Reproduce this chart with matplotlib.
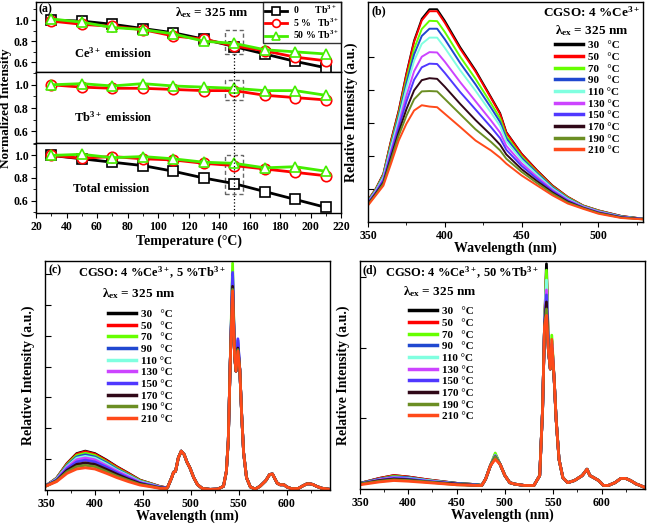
import matplotlib
matplotlib.use('Agg')
import matplotlib.pyplot as plt
from matplotlib.patches import Rectangle
from matplotlib.ticker import MultipleLocator, NullFormatter

plt.rcParams['font.family'] = ['Liberation Serif', 'DejaVu Serif']
plt.rcParams['font.weight'] = 'bold'
plt.rcParams['mathtext.fontset'] = 'custom'
plt.rcParams['mathtext.rm'] = 'Liberation Serif:bold'
plt.rcParams['mathtext.it'] = 'Liberation Serif:bold'
plt.rcParams['mathtext.bf'] = 'Liberation Serif:bold'
plt.rcParams['mathtext.default'] = 'rm'
plt.rcParams['axes.linewidth'] = 1.0

# ---------------- data ----------------
temps = [30, 50, 70, 90, 110, 130, 150, 170, 190, 210]
temp_labels = ['30   °C', '50   °C', '70   °C', '90   °C', '110 °C',
               '130 °C', '150 °C', '170 °C', '190 °C', '210 °C']
temp_colors = ['#000000', '#ff0000', '#66ff00', '#2048d0', '#80ffe0',
               '#cc44ff', '#5038ff', '#300818', '#6b8e23', '#ff4a1a']

# panel (a): normalized intensities
ce_0tb = [1.00, 0.99, 0.96, 0.92, 0.88, 0.82, 0.75, 0.68, 0.61, 0.55]
ce_5tb = [0.99, 0.96, 0.94, 0.91, 0.85, 0.82, 0.756, 0.71, 0.65, 0.616]
ce_50tb = [1.01, 0.98, 0.93, 0.91, 0.87, 0.80, 0.78, 0.72, 0.70, 0.68]
tb_5tb = [1.00, 0.98, 0.97, 0.97, 0.96, 0.95, 0.95, 0.91, 0.89, 0.87]
tb_50tb = [1.00, 1.01, 0.99, 1.01, 0.99, 0.98, 0.97, 0.95, 0.95, 0.91]
tot_0tb = [1.00, 0.97, 0.94, 0.91, 0.86, 0.80, 0.75, 0.68, 0.61, 0.54]
tot_5tb = [1.00, 0.975, 0.99, 0.97, 0.96, 0.93, 0.91, 0.88, 0.85, 0.82]
tot_50tb = [1.00, 1.01, 0.98, 0.99, 0.97, 0.94, 0.93, 0.89, 0.90, 0.86]
series_labels = ['0       Tb$^{3+}$', '5 %   Tb$^{3+}$', '50 % Tb$^{3+}$']

# panel (b): Ce3+ band, one list per temperature
wl_b = [350, 355, 360, 365, 370, 375, 380, 385, 390, 395, 400, 410, 420, 430,
        436, 440, 450, 460, 470, 480, 490, 500, 515, 529]
spec_b = [
    [0.66, 1.00, 1.46, 2.47, 3.38, 4.50, 5.50, 6.16, 6.45, 6.45, 6.10, 5.30, 4.60, 3.79, 3.30, 2.73, 2.07, 1.57, 1.11, 0.76, 0.50, 0.35, 0.18, 0.10],
    [0.66, 1.00, 1.45, 2.46, 3.36, 4.47, 5.46, 6.11, 6.39, 6.39, 6.04, 5.25, 4.56, 3.76, 3.27, 2.71, 2.06, 1.56, 1.10, 0.76, 0.50, 0.35, 0.18, 0.10],
    [0.64, 0.98, 1.42, 2.39, 3.27, 4.32, 5.25, 5.85, 6.10, 6.09, 5.76, 5.01, 4.34, 3.60, 3.14, 2.61, 1.99, 1.51, 1.07, 0.74, 0.49, 0.34, 0.17, 0.10],
    [0.63, 0.96, 1.39, 2.33, 3.20, 4.20, 5.08, 5.64, 5.86, 5.86, 5.54, 4.82, 4.17, 3.47, 3.03, 2.54, 1.94, 1.48, 1.05, 0.72, 0.48, 0.33, 0.17, 0.10],
    [0.61, 0.94, 1.36, 2.27, 3.12, 4.06, 4.89, 5.40, 5.59, 5.59, 5.28, 4.60, 3.98, 3.32, 2.91, 2.45, 1.88, 1.44, 1.02, 0.70, 0.47, 0.32, 0.16, 0.09],
    [0.59, 0.91, 1.30, 2.16, 2.98, 3.83, 4.57, 5.01, 5.15, 5.14, 4.86, 4.24, 3.66, 3.08, 2.71, 2.31, 1.78, 1.37, 0.98, 0.67, 0.46, 0.31, 0.15, 0.09],
    [0.57, 0.89, 1.26, 2.08, 2.87, 3.65, 4.31, 4.69, 4.80, 4.79, 4.52, 3.94, 3.41, 2.88, 2.54, 2.19, 1.70, 1.31, 0.94, 0.65, 0.44, 0.29, 0.15, 0.09],
    [0.55, 0.86, 1.20, 1.97, 2.73, 3.42, 3.99, 4.30, 4.36, 4.34, 4.10, 3.58, 3.09, 2.64, 2.34, 2.05, 1.60, 1.24, 0.90, 0.62, 0.43, 0.28, 0.14, 0.09],
    [0.53, 0.83, 1.16, 1.88, 2.62, 3.22, 3.72, 3.96, 3.97, 3.96, 3.73, 3.27, 2.81, 2.43, 2.17, 1.92, 1.52, 1.18, 0.86, 0.59, 0.42, 0.27, 0.13, 0.08],
    [0.50, 0.80, 1.10, 1.77, 2.47, 2.98, 3.38, 3.54, 3.50, 3.48, 3.28, 2.88, 2.47, 2.17, 1.95, 1.77, 1.41, 1.11, 0.81, 0.56, 0.40, 0.25, 0.12, 0.08],
]

# panel (c): 4% Ce, 5% Tb
wl_c_ce = [350, 360, 371, 381, 390, 400, 412, 423, 435, 447, 457, 468, 475]
ce_c = [
    [0.16, 0.38, 0.86, 1.18, 1.26, 1.18, 0.97, 0.75, 0.54, 0.32, 0.22, 0.11, 0.07],
    [0.16, 0.38, 0.85, 1.16, 1.24, 1.16, 0.95, 0.74, 0.53, 0.31, 0.22, 0.11, 0.07],
    [0.16, 0.37, 0.82, 1.12, 1.19, 1.12, 0.91, 0.70, 0.50, 0.30, 0.21, 0.10, 0.07],
    [0.16, 0.36, 0.79, 1.07, 1.14, 1.07, 0.88, 0.67, 0.48, 0.28, 0.20, 0.10, 0.07],
    [0.15, 0.35, 0.76, 1.03, 1.09, 1.03, 0.84, 0.64, 0.46, 0.27, 0.19, 0.09, 0.06],
    [0.15, 0.33, 0.73, 0.98, 1.04, 0.98, 0.79, 0.61, 0.43, 0.25, 0.17, 0.09, 0.06],
    [0.15, 0.32, 0.69, 0.91, 0.97, 0.91, 0.74, 0.56, 0.39, 0.23, 0.16, 0.08, 0.06],
    [0.15, 0.30, 0.64, 0.83, 0.88, 0.83, 0.67, 0.51, 0.35, 0.21, 0.14, 0.07, 0.06],
    [0.14, 0.29, 0.59, 0.76, 0.80, 0.76, 0.60, 0.45, 0.31, 0.18, 0.13, 0.06, 0.05],
    [0.14, 0.27, 0.54, 0.68, 0.72, 0.68, 0.54, 0.40, 0.27, 0.16, 0.11, 0.05, 0.05],
]
wl_c_tb1 = [476, 480, 482, 484, 487, 490, 493, 496, 499, 503, 507, 512, 520, 528, 534, 537, 539, 541]
tb_c1 = [0.10, 0.40, 0.58, 0.60, 1.05, 1.26, 1.15, 0.90, 0.72, 0.40, 0.17, 0.05, 0.02, 0.03, 0.12, 0.60, 1.60, 4.10]
wl_c_p1 = 543.5
p1_c = [6.75, 6.70, 7.35, 7.00, 6.90, 6.80, 7.05, 6.60, 6.50, 6.45]
wl_c_tb2 = [545.5, 547.0]
tb_c2 = [4.40, 3.85]
wl_c_p2 = 549.0
p2_c = [4.60, 4.60, 4.70, 4.85, 4.70, 4.75, 4.90, 4.60, 4.55, 4.50]
wl_c_tb3 = [551, 553, 555, 558, 562, 567, 572, 578, 582, 585, 587, 590, 593, 597, 600, 605, 612, 617, 621, 624, 627, 631, 636, 645]
tb_c3 = [3.90, 2.40, 1.20, 0.40, 0.10, 0.03, 0.12, 0.30, 0.50, 0.52, 0.40, 0.22, 0.17, 0.17, 0.10, 0.04, 0.05, 0.14, 0.20, 0.20, 0.18, 0.12, 0.06, 0.02]

# panel (d): 4% Ce, 50% Tb
wl_d_ce = [350, 370, 385, 400, 420, 450, 472]
ce_d = [
    [0.08, 0.15, 0.19, 0.17, 0.13, 0.08, 0.06],
    [0.08, 0.15, 0.19, 0.17, 0.13, 0.08, 0.06],
    [0.08, 0.14, 0.18, 0.16, 0.12, 0.08, 0.06],
    [0.08, 0.14, 0.17, 0.16, 0.12, 0.08, 0.06],
    [0.07, 0.13, 0.16, 0.15, 0.12, 0.07, 0.05],
    [0.07, 0.13, 0.16, 0.14, 0.11, 0.07, 0.05],
    [0.07, 0.12, 0.15, 0.14, 0.11, 0.07, 0.05],
    [0.07, 0.12, 0.14, 0.13, 0.10, 0.07, 0.05],
    [0.07, 0.11, 0.13, 0.12, 0.10, 0.06, 0.05],
    [0.06, 0.10, 0.12, 0.11, 0.09, 0.06, 0.05],
]
wl_d_tb1 = [476, 480, 485]
tb_d1 = [0.05, 0.14, 0.33]
wl_d_p0 = 490.0
p0_d = [0.49, 0.48, 0.51, 0.47, 0.48, 0.47, 0.47, 0.45, 0.46, 0.42]
wl_d_tb2 = [495, 500, 505, 510, 520, 530, 536, 539, 541]
tb_d2 = [0.35, 0.19, 0.09, 0.07, 0.05, 0.05, 0.19, 1.13, 2.30]
wl_d_p1 = 543.0
p1_d = [3.19, 3.05, 3.10, 2.90, 2.96, 2.82, 2.75, 2.65, 2.55, 2.46]
wl_d_tb3 = [545, 547]
tb_d3 = [1.97, 1.70]
wl_d_p2 = 548.5
p2_d = [2.10, 2.10, 2.18, 2.07, 2.10, 2.05, 2.05, 2.00, 2.00, 2.12]
wl_d_tb4 = [551, 553, 556, 560, 565, 572, 580, 585, 588, 592, 597, 602, 607, 614, 620, 625, 630, 636, 640, 645]
tb_d4 = [1.55, 0.99, 0.42, 0.16, 0.09, 0.12, 0.19, 0.28, 0.19, 0.16, 0.12, 0.05, 0.05, 0.09, 0.15, 0.15, 0.12, 0.07, 0.05, 0.02]

# ---------------- figure ----------------
W, H = 647, 528
fig = plt.figure(figsize=(W / 100, H / 100), dpi=100)


def fa(l, t, r, b):
    return fig.add_axes([l / W, 1 - b / H, (r - l) / W, (b - t) / H])


TICK_FS = 8.5
LAB_FS = 10
TXT = dict(fontweight='bold')

# ---- panel (a)
ax_t = fa(36, 2, 341, 72)
ax_m = fa(36, 72, 341, 143)
ax_b3 = fa(36, 143, 341, 213)
sty = [dict(color='black', marker='s', mec='black'),
       dict(color='#ff0000', marker='o', mec='#ff0000'),
       dict(color='#44ee00', marker='^', mec='#44ee00')]
common = dict(lw=2.0, ms=7.5, mfc='white', mew=1.2)

h0, = ax_t.plot(temps, ce_0tb, **sty[0], **common)
h1, = ax_t.plot(temps, ce_5tb, **sty[1], **common)
h2, = ax_t.plot(temps, ce_50tb, **sty[2], **common)
ax_m.plot(temps, tb_5tb, **sty[1], **common)
ax_m.plot(temps, tb_50tb, **sty[2], **common)
ax_b3.plot(temps, tot_0tb, **sty[0], **common)
ax_b3.plot(temps, tot_5tb, **sty[1], **common)
ax_b3.plot(temps, tot_50tb, **sty[2], **common)

ax_t.set_ylim(0.51, 1.17)
ax_m.set_ylim(0.50, 1.11)
ax_b3.set_ylim(0.49, 1.11)
for ax in (ax_t, ax_m, ax_b3):
    ax.set_xlim(20, 220)
    ax.xaxis.set_major_locator(MultipleLocator(20))
    ax.xaxis.set_minor_locator(MultipleLocator(10))
    ax.set_yticks([0.6, 0.8, 1.0])
    ax.yaxis.set_minor_locator(MultipleLocator(0.1))
    ax.tick_params(axis='both', which='major', direction='out', length=3.5, labelsize=TICK_FS, pad=2)
    ax.tick_params(axis='both', which='minor', direction='out', length=2)
    for lab in ax.get_yticklabels():
        lab.set_fontweight('bold')
for ax in (ax_t, ax_m):
    ax.tick_params(axis='x', which='both', length=0, labelbottom=False)
for lab in ax_b3.get_xticklabels():
    lab.set_fontweight('bold')
ax_b3.set_xlabel('Temperature (°C)', fontsize=LAB_FS, fontweight='bold', labelpad=1)

# guide boxes and dotted line at 150 °C
box_kw = dict(fill=False, ls=(0, (3, 2)), lw=1.0, ec='#666666')
ax_t.add_patch(Rectangle((144, 0.68), 12, 0.225, **box_kw))
ax_m.add_patch(Rectangle((144, 0.87), 12, 0.17, **box_kw))
ax_b3.add_patch(Rectangle((144, 0.66), 12, 0.34, **box_kw))
ax_t.plot([150, 150], [0.51, 0.68], ls=':', color='black', lw=0.9)
ax_m.axvline(150, ls=':', color='black', lw=0.9)
ax_b3.axvline(150, ls=':', color='black', lw=0.9)

ax_t.text(0.008, 0.985, '(a)', transform=ax_t.transAxes, fontsize=8.5, va='top', ha='left', **TXT)
fig.text(212 / W, 1 - 13 / H, r'$\lambda_{\rm ex}$ = 325 nm', fontsize=9.5, ha='center', va='center', **TXT)
fig.text(74 / W, 1 - 53 / H, 'Ce$^{3+}$ emission', fontsize=9, ha='left', va='center', **TXT)
fig.text(74 / W, 1 - 117 / H, 'Tb$^{3+}$ emission', fontsize=9, ha='left', va='center', **TXT)
fig.text(73 / W, 1 - 189 / H, 'Total emission', fontsize=9, ha='left', va='center', **TXT)
fig.text(6 / W, 1 - 108 / H, 'Normalized Intensity', rotation=90, fontsize=9.5,
         ha='center', va='center', **TXT)

leg = ax_t.legend([h0, h1, h2], series_labels, loc='upper right', bbox_to_anchor=(1.0, 1.0),
                  numpoints=1, frameon=True, fancybox=False, edgecolor='black', markerscale=0.75,
                  borderpad=0.2, labelspacing=0.0, handlelength=2.2, handletextpad=0.6,
                  borderaxespad=0.0, prop={'weight': 'bold', 'size': 7})
leg.get_frame().set_linewidth(1.0)


def style_spec(ax, yt):
    ax.set_yticks(yt)
    ax.yaxis.set_major_formatter(NullFormatter())
    ax.xaxis.set_major_locator(MultipleLocator(50))
    ax.xaxis.set_minor_locator(MultipleLocator(25))
    ax.tick_params(axis='y', which='major', direction='in', length=4)
    ax.tick_params(axis='x', which='major', direction='out', length=3.5, labelsize=TICK_FS, pad=2)
    ax.tick_params(axis='x', which='minor', direction='out', length=2)
    for lab in ax.get_xticklabels():
        lab.set_fontweight('bold')
    ax.set_xlabel('Wavelength (nm)', fontsize=LAB_FS, fontweight='bold', labelpad=0)
    ax.set_ylabel('Relative Intensity (a.u.)', fontsize=LAB_FS, fontweight='bold', labelpad=4)


def spec_legend(ax, handles, x, y):
    lg = ax.legend(handles, temp_labels, loc='upper left', bbox_to_anchor=(x, y), frameon=False,
                   prop={'weight': 'bold', 'size': 8}, borderpad=0, borderaxespad=0,
                   labelspacing=0.17, handlelength=2.5, handletextpad=0.5)
    for ln in lg.get_lines():
        ln.set_linewidth(2.5)
    return lg


# ---- panel (b)
ax_bb = fa(368, 2, 643, 222)
hb = []
for i in range(len(temps)):
    h, = ax_bb.plot(wl_b, spec_b[i], color=temp_colors[i], lw=1.4)
    hb.append(h)
ax_bb.set_xlim(350, 529)
ax_bb.set_ylim(0, 6.67)
style_spec(ax_bb, [1, 2, 3, 4, 5])
ax_bb.text(0.012, 0.985, '(b)', transform=ax_bb.transAxes, fontsize=8.5, va='top', ha='left', **TXT)
ax_bb.text(0.99, 0.985, 'CGSO: 4 %Ce$^{3+}$', transform=ax_bb.transAxes, fontsize=9.5,
           va='top', ha='right', **TXT)
ax_bb.text(0.68, 0.87, r'$\lambda_{\rm ex}$ = 325 nm', transform=ax_bb.transAxes, fontsize=9.5,
           va='center', ha='left', **TXT)
spec_legend(ax_bb, hb, 0.68, 0.825)

# ---- panel (c)
ax_c = fa(45, 261, 330, 490)
hc = []
for i in range(len(temps)):
    wl = wl_c_ce + wl_c_tb1 + [wl_c_p1] + wl_c_tb2 + [wl_c_p2] + wl_c_tb3
    iv = ce_c[i] + tb_c1 + [p1_c[i]] + tb_c2 + [p2_c[i]] + tb_c3
    h, = ax_c.plot(wl, iv, color=temp_colors[i], lw=2.0)
    hc.append(h)
ax_c.set_xlim(348, 645)
ax_c.set_ylim(0, 7.42)
style_spec(ax_c, [1, 2, 3, 4, 5, 6, 7])
ax_c.text(0.012, 0.985, '(c)', transform=ax_c.transAxes, fontsize=8.5, va='top', ha='left', **TXT)
ax_c.text(0.116, 0.985, 'CGSO: 4 %Ce$^{3+}$, 5 %Tb$^{3+}$', transform=ax_c.transAxes, fontsize=9,
          va='top', ha='left', **TXT)
ax_c.text(0.2, 0.857, r'$\lambda_{\rm ex}$ = 325 nm', transform=ax_c.transAxes, fontsize=9.5,
          va='center', ha='left', **TXT)
spec_legend(ax_c, hc, 0.221, 0.79)

# ---- panel (d)
ax_d = fa(360, 261, 645, 489)
hd = []
for i in range(len(temps)):
    wl = wl_d_ce + wl_d_tb1 + [wl_d_p0] + wl_d_tb2 + [wl_d_p1] + wl_d_tb3 + [wl_d_p2] + wl_d_tb4
    iv = ce_d[i] + tb_d1 + [p0_d[i]] + tb_d2 + [p1_d[i]] + tb_d3 + [p2_d[i]] + tb_d4
    h, = ax_d.plot(wl, iv, color=temp_colors[i], lw=2.0)
    hd.append(h)
ax_d.set_xlim(350, 645)
ax_d.set_ylim(0, 3.23)
style_spec(ax_d, [1, 2, 3])
ax_d.text(0.01, 0.985, '(d)', transform=ax_d.transAxes, fontsize=8.5, va='top', ha='left', **TXT)
ax_d.text(0.088, 0.985, 'CGSO: 4 %Ce$^{3+}$, 50 %Tb$^{3+}$', transform=ax_d.transAxes, fontsize=9,
          va='top', ha='left', **TXT)
ax_d.text(0.15, 0.865, r'$\lambda_{\rm ex}$ = 325 nm', transform=ax_d.transAxes, fontsize=9.5,
          va='center', ha='left', **TXT)
spec_legend(ax_d, hd, 0.172, 0.80)

fig.savefig('out.png', dpi=100)
